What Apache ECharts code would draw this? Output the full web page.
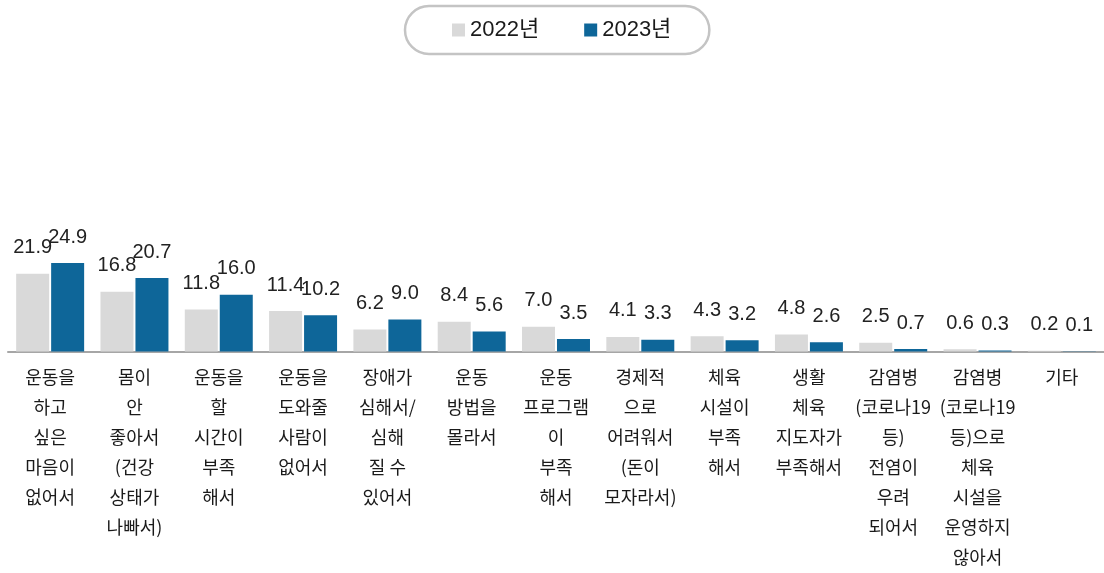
<!DOCTYPE html>
<html>
<head>
<meta charset="utf-8">
<script src="https://cdn.jsdelivr.net/npm/echarts@6/dist/echarts.min.js"></script>
<style>
html,body{margin:0;padding:0;background:#fff;}
#chart{width:1104px;height:573px;}
</style>
</head>
<body>
<div id="chart"></div>
<script>
const categories = [
  '운동을\n하고\n싶은\n마음이\n없어서',
  '몸이\n안\n좋아서\n(건강\n상태가\n나빠서)',
  '운동을\n할\n시간이\n부족\n해서',
  '운동을\n도와줄\n사람이\n없어서',
  '장애가\n심해서/\n심해\n질 수\n있어서',
  '운동\n방법을\n몰라서',
  '운동\n프로그램\n이\n부족\n해서',
  '경제적\n으로\n어려워서\n(돈이\n모자라서)',
  '체육\n시설이\n부족\n해서',
  '생활\n체육\n지도자가\n부족해서',
  '감염병\n(코로나19\n등)\n전염이\n우려\n되어서',
  '감염병\n(코로나19\n등)으로\n체육\n시설을\n운영하지\n않아서',
  '기타'
];
const seriesNames = ['2022년', '2023년'];
const values2022 = [21.9, 16.8, 11.8, 11.4, 6.2, 8.4, 7.0, 4.1, 4.3, 4.8, 2.5, 0.6, 0.2];
const values2023 = [24.9, 20.7, 16.0, 10.2, 9.0, 5.6, 3.5, 3.3, 3.2, 2.6, 0.7, 0.3, 0.1];

const chart = echarts.init(document.getElementById('chart'), null, {renderer: 'canvas'});
const labelStyle = {
  show: true,
  position: 'top',
  distance: 16,
  fontSize: 20,
  color: '#222',
  fontFamily: 'Liberation Sans, Arial, sans-serif',
  formatter: p => Number(p.value).toFixed(1)
};
chart.setOption({
  animation: false,
  legend: {
    data: seriesNames,
    left: 405,
    top: 6,
    padding: [13, 38, 13, 47],
    borderColor: '#c4c4c4',
    borderWidth: 2.5,
    borderRadius: 25,
    itemWidth: 13,
    itemHeight: 13,
    itemGap: 45,
    icon: 'rect',
    textStyle: {fontSize: 22, color: '#1a1a1a', fontFamily: 'Liberation Sans, "Noto Sans CJK KR", sans-serif'}
  },
  grid: {left: 8, width: 1105, top: 245, bottom: 221.5, containLabel: false},
  xAxis: {
    type: 'category',
    data: categories,
    axisTick: {show: false},
    axisLine: {lineStyle: {color: '#a6a6a6', width: 2}},
    axisLabel: {
      interval: 0,
      margin: 11,
      fontSize: 18,
      lineHeight: 30,
      color: '#1a1a1a',
      fontFamily: '"Noto Sans CJK KR", sans-serif'
    }
  },
  yAxis: {
    type: 'value',
    min: 0,
    max: 30,
    show: false,
    splitLine: {show: false}
  },
  series: [
    {
      name: seriesNames[0],
      type: 'bar',
      data: values2022,
      barWidth: 33,
      barGap: '6%',
      itemStyle: {color: '#d9d9d9'},
      label: labelStyle
    },
    {
      name: seriesNames[1],
      type: 'bar',
      data: values2023,
      barWidth: 33,
      barGap: '6%',
      itemStyle: {color: '#0e6699'},
      label: labelStyle
    }
  ]
});
</script>
</body>
</html>
